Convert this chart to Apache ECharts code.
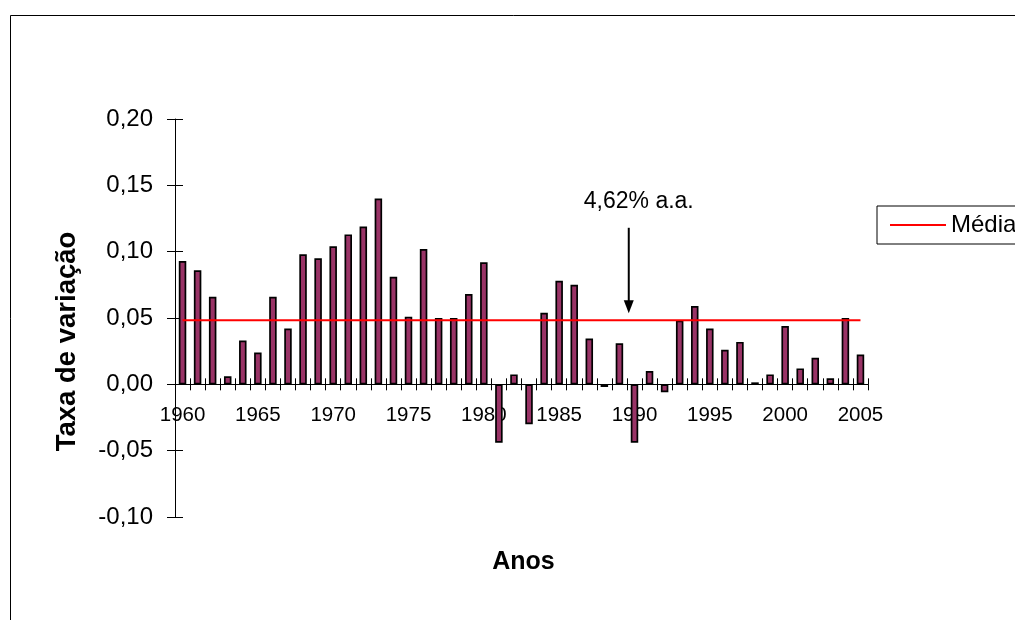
<!DOCTYPE html>
<html><head><meta charset="utf-8">
<script src="https://cdn.jsdelivr.net/npm/echarts@6/dist/echarts.min.js"></script>
<style>html,body{margin:0;padding:0;background:#fff;overflow:hidden}#c{width:1015px;height:620px}</style>
</head><body><div id="c"></div>
<script>
const years = ['1960','1961','1962','1963','1964','1965','1966','1967','1968','1969',
  '1970','1971','1972','1973','1974','1975','1976','1977','1978','1979',
  '1980','1981','1982','1983','1984','1985','1986','1987','1988','1989',
  '1990','1991','1992','1993','1994','1995','1996','1997','1998','1999',
  '2000','2001','2002','2003','2004','2005'];
const growth = [0.093,0.086,0.066,0.006,0.033,0.024,0.066,0.042,0.098,0.095,
  0.104,0.113,0.119,0.140,0.081,0.051,0.102,0.050,0.050,0.068,
  0.092,-0.044,0.0075,-0.030,0.054,0.078,0.075,0.0345,-0.002,0.031,
  -0.044,0.010,-0.006,0.048,0.059,0.042,0.026,0.032,0.0015,0.0075,
  0.044,0.012,0.020,0.0045,0.050,0.0225];
const meanRate = 0.0483;
const meanLabel = '4,62% a.a.';
const yMin = -0.10, yMax = 0.20, yStep = 0.05;
const arrowYear = '1990', arrowTopValue = 0.118, arrowTipValue = 0.0535;

const FONT = '"Liberation Sans", Arial, Helvetica, sans-serif';
const chart = echarts.init(document.getElementById('c'), null, {renderer: 'canvas'});
const fmtY = v => v.toFixed(2).replace('.', ',');

function xAxes(offset) {
  return [
    {type: 'category', data: years, boundaryGap: true, position: 'bottom', offset: offset,
     axisLine: {onZero: false, lineStyle: {color: '#000', width: 1}},
     axisTick: {show: true, interval: 0, inside: false, length: 6, lineStyle: {color: '#000'}},
     axisLabel: {interval: (i, v) => Number(v) % 5 === 0, fontFamily: FONT, fontSize: 20.5, color: '#000', margin: 21},
     splitLine: {show: false}},
    {type: 'category', data: years, boundaryGap: true, position: 'bottom', offset: offset,
     axisLine: {onZero: false, lineStyle: {color: '#000', width: 1}},
     axisTick: {show: true, interval: 0, inside: true, length: 6, lineStyle: {color: '#000'}},
     axisLabel: {show: false}, splitLine: {show: false}}
  ];
}

const option = {
  animation: false,
  backgroundColor: '#fff',
  textStyle: {fontFamily: FONT},
  grid: {left: 175, top: 119, width: 693, height: 398, containLabel: false},
  legend: {
    data: [{name: 'Média', icon: 'rect'}], left: 877, top: 206, orient: 'horizontal',
    padding: [7, 100, 7, 13], itemWidth: 56, itemHeight: 2, itemGap: 6,
    borderColor: '#000', borderWidth: 1, borderRadius: 0,
    textStyle: {fontFamily: FONT, fontSize: 24, color: '#000'}
  },
  xAxis: xAxes(0),
  yAxis: [
    {type: 'value', min: yMin, max: yMax, interval: yStep, position: 'left',
     axisLine: {show: true, onZero: false, lineStyle: {color: '#000'}},
     axisTick: {show: true, inside: false, length: 8, lineStyle: {color: '#000'}},
     axisLabel: {formatter: fmtY, fontFamily: FONT, fontSize: 24, color: '#000', margin: 22},
     splitLine: {show: false}},
    {type: 'value', min: yMin, max: yMax, interval: yStep, position: 'left',
     axisLine: {show: false, onZero: false},
     axisTick: {show: true, inside: true, length: 8, lineStyle: {color: '#000'}},
     axisLabel: {show: false}, splitLine: {show: false}}
  ],
  series: [
    {name: 'Taxa', type: 'bar', data: growth, barWidth: 7.5,
     itemStyle: {color: '#993366', borderColor: '#000', borderWidth: 1.7}, z: 2},
    {name: 'Média', type: 'line', symbol: 'none',
     data: [[years[0], meanRate], [years[years.length - 1], meanRate]],
     lineStyle: {color: '#ff0000', width: 2}, itemStyle: {color: '#ff0000'}, z: 3}
  ]
};
chart.setOption(option);

// move the category axes up to the zero line
const zeroPx = chart.convertToPixel({yAxisIndex: 0}, 0);
const bottomPx = chart.convertToPixel({yAxisIndex: 0}, yMin);
chart.setOption({xAxis: xAxes(-(bottomPx - zeroPx))});

const idx = years.indexOf(arrowYear);
const pTop = chart.convertToPixel({gridIndex: 0}, [idx, arrowTopValue]);
const pTip = chart.convertToPixel({gridIndex: 0}, [idx, arrowTipValue]);
const pNext = chart.convertToPixel({gridIndex: 0}, [idx + 1, arrowTipValue]);
const catW = pNext[0] - pTip[0];
const ax = pTip[0] - 0.38 * catW;

chart.setOption({
  graphic: [
    {type: 'rect', shape: {x: 10.5, y: 15.5, width: 1200, height: 800},
     style: {fill: 'none', stroke: '#000', lineWidth: 1}, z: 10, silent: true},
    {type: 'line', shape: {x1: ax, y1: pTop[1], x2: ax, y2: pTip[1] - 12},
     style: {stroke: '#000', lineWidth: 2}, z: 10},
    {type: 'polygon', shape: {points: [[ax - 5, pTip[1] - 13], [ax + 5, pTip[1] - 13], [ax, pTip[1]]]},
     style: {fill: '#000'}, z: 10},
    {type: 'text', x: ax + 10, y: pTop[1] - 26,
     style: {text: meanLabel, font: '23px ' + FONT, fill: '#000', align: 'center', verticalAlign: 'middle'}, z: 10},
    {type: 'text', x: 523.5, y: 562,
     style: {text: 'Anos', font: 'bold 25px ' + FONT, fill: '#000', align: 'center', verticalAlign: 'middle'}, z: 10},
    {type: 'text', x: 67.5, y: 341.5, rotation: Math.PI / 2,
     style: {text: 'Taxa de variação', font: 'bold 27.5px ' + FONT, fill: '#000', align: 'center', verticalAlign: 'middle'}, z: 10}
  ]
});
</script></body></html>
